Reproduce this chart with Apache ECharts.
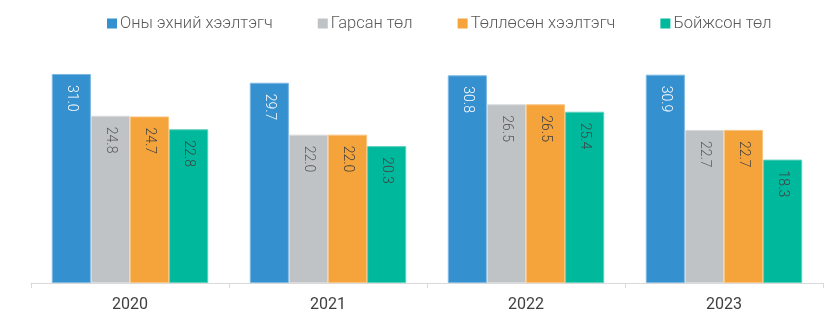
<!DOCTYPE html>
<html><head><meta charset="utf-8">
<script src="https://cdn.jsdelivr.net/npm/echarts@6/dist/echarts.min.js"></script>
<style>html,body{margin:0;padding:0;background:#fff}#c{width:825px;height:328px}</style>
</head><body><div id="c"></div>
<script>
const categories = ['2020', '2021', '2022', '2023'];
const seriesNames = ['Оны эхний хээлтэгч', 'Гарсан төл', 'Төллөсөн хээлтэгч', 'Бойжсон төл'];
const startFemales = [31.0, 29.7, 30.8, 30.9];
const bornYoung = [24.8, 22.0, 26.5, 22.7];
const birthedFemales = [24.7, 22.0, 26.5, 22.7];
const rearedYoung = [22.8, 20.3, 25.4, 18.3];

const colors = ['#3590D0', '#BFC3C6', '#F5A33B', '#00B89C'];
const borderColors = ['#7DB8E3', '#D8DADC', '#F9C47F', '#5FD0BE'];
const labelColors = ['#ffffff', '#595959', '#404040', '#404040'];
const values = [startFemales, bornYoung, birthedFemales, rearedYoung];

const chart = echarts.init(document.getElementById('c'), null, {renderer: 'canvas'});
chart.setOption({
  animation: false,
  textStyle: {fontFamily: 'Roboto'},
  legend: {
    top: 10,
    left: 102,
    itemWidth: 10,
    itemHeight: 10,
    itemGap: 45,
    icon: 'rect',
    itemStyle: {borderWidth: 0},
    textStyle: {fontSize: 16.5, color: '#595959', fontFamily: 'Roboto', fontWeight: 300, padding: [0, 0, 0, -2]},
    data: seriesNames
  },
  grid: {left: 31, right: 2, top: 47, bottom: 45},
  xAxis: {
    type: 'category',
    data: categories,
    axisLine: {lineStyle: {color: '#d9d9d9'}},
    axisTick: {show: true, length: 5, lineStyle: {color: '#d9d9d9'}},
    axisLabel: {fontSize: 16, color: '#404040', margin: 14}
  },
  yAxis: {
    type: 'value',
    min: 0, max: 35,
    show: false,
    splitLine: {show: false}
  },
  series: seriesNames.map((n, i) => ({
    name: n,
    type: 'bar',
    data: values[i],
    barGap: '0%',
    barCategoryGap: '21%',
    itemStyle: {color: colors[i], borderColor: borderColors[i], borderWidth: 1},
    label: {
      show: true,
      position: 'insideTop',
      rotate: -90,
      align: 'left',
      verticalAlign: 'middle',
      distance: 11,
      fontSize: 14,
      fontWeight: 300,
      color: labelColors[i],
      formatter: p => p.value.toFixed(1)
    }
  }))
});
</script></body></html>
